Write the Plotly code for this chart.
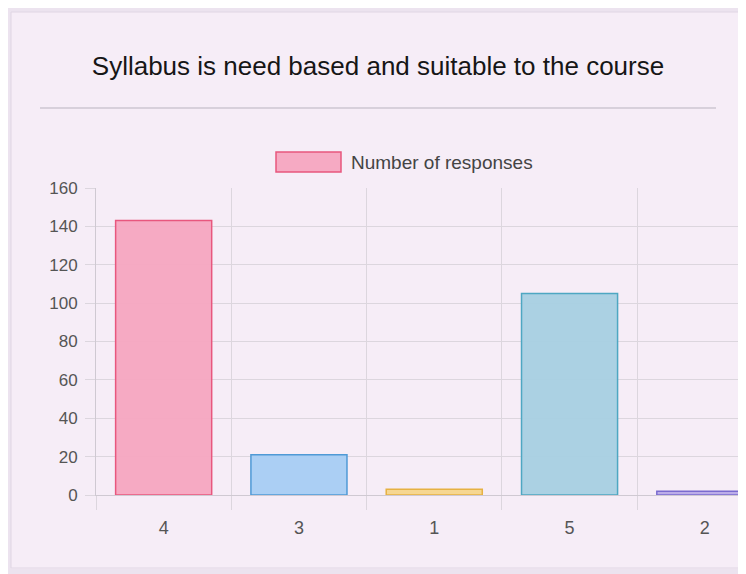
import plotly.graph_objects as go

categories = ["4", "3", "1", "5", "2"]
responses = [143, 21, 3, 105, 2]
fill_colors = ["rgba(246,166,192,0.95)", "rgba(166,206,243,0.95)", "rgba(246,214,140,0.95)",
               "rgba(166,208,226,0.95)", "rgba(184,170,232,0.95)"]
line_colors = ["#e8577e", "#4f9ad6", "#e6b143", "#4ea7c2", "#7a6bcf"]
y_ticks = [0, 20, 40, 60, 80, 100, 120, 140, 160]

W, H = 746, 574
OFF = 8  # page body margin offset
# plot area in page pixels
PL, PT, PB = 96, 188, 495
L = PL - OFF
T = PT - OFF
B = H - (PB - OFF)
R = 0
PW, PH = W - L - R, H - T - B


def px(x):
    return (x - OFF - L) / PW


def py(y):
    return (H - B - (y - OFF)) / PH


fig = go.Figure()
fig.add_trace(go.Bar(
    x=categories, y=responses, name="Number of responses",
    marker=dict(color=fill_colors, line=dict(color=line_colors, width=1.5)),
    showlegend=False,
))

font_family = "Liberation Sans, Arial, Helvetica, sans-serif"
card = "#f6edf7"
outer = "#ece3ef"

shapes = [
    # outer strips (left, top, bottom)
    dict(type="rect", xref="paper", yref="paper", x0=px(0), x1=px(11), y0=py(600), y1=py(0),
         fillcolor=outer, line=dict(width=0), layer="below"),
    dict(type="rect", xref="paper", yref="paper", x0=px(0), x1=px(800), y0=py(12), y1=py(0),
         fillcolor=outer, line=dict(width=0), layer="below"),
    dict(type="rect", xref="paper", yref="paper", x0=px(0), x1=px(800), y0=py(600), y1=py(569),
         fillcolor=outer, line=dict(width=0), layer="below"),
    # card edges
    dict(type="line", xref="paper", yref="paper", x0=px(11), x1=px(11), y0=py(568), y1=py(12),
         line=dict(color="#e0d6e4", width=1), layer="below"),
    dict(type="line", xref="paper", yref="paper", x0=px(11), x1=px(800), y0=py(12), y1=py(12),
         line=dict(color="#e0d6e4", width=1), layer="below"),
    dict(type="line", xref="paper", yref="paper", x0=px(11), x1=px(800), y0=py(568), y1=py(568),
         line=dict(color="#e0d6e4", width=1), layer="below"),
    # separator line
    dict(type="line", xref="paper", yref="paper", x0=px(40), x1=px(716), y0=py(108), y1=py(108),
         line=dict(color="#b9b3bf", width=1)),
    # legend box
    dict(type="rect", xref="paper", yref="paper", x0=px(276), x1=px(341), y0=py(172), y1=py(152),
         fillcolor=fill_colors[0], line=dict(color=line_colors[0], width=1.5)),
]

fig.update_layout(
    width=W, height=H,
    margin=dict(l=L, r=R, t=T, b=B, pad=0),
    paper_bgcolor=card,
    plot_bgcolor="rgba(0,0,0,0)",
    font=dict(family=font_family, color="#555555", size=17),
    title=dict(text="Syllabus is need based and suitable to the course",
               x=(378 - OFF) / W, xanchor="center", y=1 - (66 - OFF) / H, yanchor="middle",
               yref="container", xref="container",
               font=dict(size=26, color="#161616", family=font_family)),
    bargap=0.29,
    shapes=shapes,
    annotations=[dict(text="Number of responses", xref="paper", yref="paper",
                      x=px(349), y=py(162), xanchor="left", yanchor="middle",
                      showarrow=False, font=dict(size=19, color="#444444"))],
    xaxis=dict(
        type="category", range=[-0.5, -0.5 + (W - L) / 135.3],
        tickson="boundaries", showgrid=True, gridcolor="#dcd6de", gridwidth=1,
        ticks="outside", ticklen=14, tickcolor="#dcd6de",
        ticklabelstandoff=16,
        showline=True, linecolor="#cfc9d2", zeroline=False,
        tickfont=dict(size=18, color="#555555"),
    ),
    yaxis=dict(
        range=[0, 160], tickvals=y_ticks, showgrid=True, gridcolor="#dcd6de",
        ticks="outside", ticklen=10, tickcolor="#dcd6de",
        ticklabelstandoff=4,
        showline=True, linecolor="#cfc9d2", zeroline=False,
        tickfont=dict(size=17, color="#555555"),
    ),
)

fig.write_html("out.html")
